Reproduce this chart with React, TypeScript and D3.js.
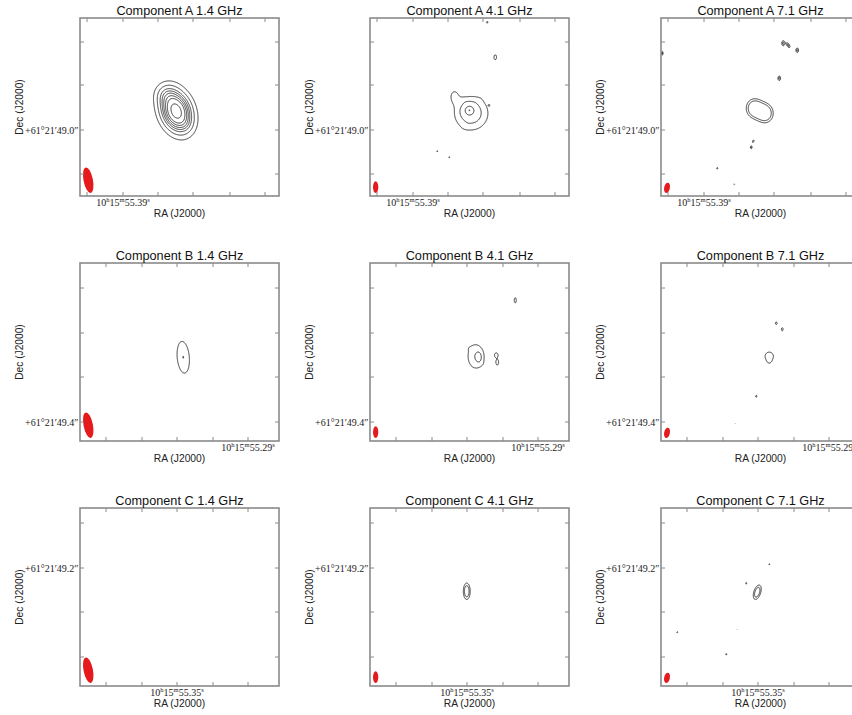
import React, { useMemo } from "react";
import * as d3 from "d3";

const WIDTH = 852;
const HEIGHT = 715;

// ---------- data ----------
const sourceNames = ["A", "B", "C"];
const frequencies = ["1.4 GHz", "4.1 GHz", "7.1 GHz"];

// map extent in map pixels (x east->west, y south->north)
const MAP_W = 199;
const MAP_H = 178;

// Gaussian components: [x, y, amplitude, sigmaX, sigmaY, tilt(deg)]
type Comp = [number, number, number, number, number, number];

const srcA14: Comp[] = [
  [96, 85, 1, 9, 13, -20],
  [86, 102, 0.14, 7, 7, 0],
  [104, 72, 0.05, 5, 5, 0],
];
const lvlA14 = [0.075, 0.17, 0.28, 0.37, 0.46, 0.56, 0.67, 0.87];

const srcA41: Comp[] = [
  [99, 86, 0.6, 4, 4, 0],
  [101, 83, 0.4, 10, 10, 0],
  [84, 100, 0.12, 4, 6, 0],
  [93, 96, 0.05, 3, 2, 0],
  [108, 96, 0.04, 3, 2, 0],
  [96, 70, 0.05, 3, 2, 0],
  [119, 91, 0.06, 1, 1, 0],
  [117, 174, 0.13, 1, 1, 0],
  [125, 139, 0.16, 1.3, 2.5, 0],
  [67, 45, 0.12, 0.9, 0.9, 0],
  [79, 39, 0.12, 0.9, 0.9, 0],
  [99, 86, 0.06, 0.8, 0.8, 0],
];
const lvlA41 = [0.1, 0.25, 0.68, 1.02];

const srcA71: Comp[] = [
  [93, 88, 1, 6, 7, 0],
  [104, 83, 1, 6, 7, 0],
  [122, 153, 0.7, 1.5, 2.5, 0],
  [127, 151, 0.7, 1.2, 2.6, -30],
  [136, 146, 0.7, 1.3, 2.2, 0],
  [118, 118, 0.7, 1.3, 2.2, 0],
  [92, 55, 0.6, 0.8, 1.5, 20],
  [90, 49, 0.65, 0.9, 1.5, 0],
  [56, 28, 0.55, 0.9, 0.9, 0],
  [73, 12, 0.5, 0.7, 0.7, 0],
  [1, 143, 0.7, 0.8, 1.8, 0],
];
const lvlA71 = [0.42, 0.62];

const srcB14: Comp[] = [[103, 84, 1, 4, 10.5, -5]];
const lvlB14 = [0.32, 0.995];

const srcB41: Comp[] = [
  [105, 85, 0.5, 5, 8, 0],
  [109, 84, 0.5, 2.5, 4.5, 0],
  [126, 86, 0.36, 1.5, 2, 0],
  [127, 79, 0.34, 1.2, 2.4, 0],
  [145, 141, 0.3, 1, 2.5, 0],
  [99, 93, 0.06, 2, 2, 0],
  [112, 78, 0.06, 2, 2, 0],
];
const lvlB41 = [0.18, 0.6];

const srcB71: Comp[] = [
  [108, 85, 0.6, 3.5, 3.5, 0],
  [108, 80, 0.3, 2, 2, 0],
  [115, 118, 0.42, 1, 1.5, 0],
  [121, 112, 0.45, 0.9, 1.8, 0],
  [95, 45, 0.4, 0.8, 1.3, 0],
  [74, 18, 0.32, 0.5, 0.5, 0],
];
const lvlB71 = [0.3];

const srcC14: Comp[] = [];
const lvlC14 = [0.3];

const srcC41: Comp[] = [[96.5, 95, 1, 2.3, 5.5, 0]];
const lvlC41 = [0.33, 0.6];

const srcC71: Comp[] = [
  [96, 94, 1, 2.3, 5, 18],
  [108, 122, 0.45, 0.7, 0.7, 0],
  [85, 103, 0.45, 0.7, 1, 0],
  [16, 54, 0.45, 0.7, 0.7, 0],
  [65, 32, 0.45, 0.8, 0.8, 0],
  [76, 57, 0.36, 0.5, 0.5, 0],
];
const lvlC71 = [0.33, 0.6];

const panelSources = [
  [srcA14, srcA41, srcA71],
  [srcB14, srcB41, srcB71],
  [srcC14, srcC41, srcC71],
];
const panelLevels = [
  [lvlA14, lvlA41, lvlA71],
  [lvlB14, lvlB41, lvlB71],
  [lvlC14, lvlC41, lvlC71],
];

// restoring beam per frequency (map pixels)
const beamMajor = [26, 11.7, 10.5];
const beamMinor = [9.4, 5.3, 5.7];
const beamPA = [-11, 0, 12];

// axis ticks per row (map pixels) and labels
const decTicks = [
  [22, 66, 111, 154],
  [19, 64, 108, 153],
  [29, 74, 118, 163],
];
const decLabelTick = [66, 19, 118];
const decLabels = ["+61°21′49.0″", "+61°21′49.4″", "+61°21′49.2″"];

const raTicks = [
  [7, 43, 78, 113, 150, 185],
  [26, 62, 97, 133, 168],
  [26, 62, 97, 133, 168],
];
const raLabelTick = [43, 168, 97];
const raLabels = ["10h15m55.39s", "10h15m55.29s", "10h15m55.35s"];

// ---------- layout ----------
const PW = 199;
const PH = 178;
const colLeft = [80, 370, 661];
const rowTop = [18, 263, 508];
const RES = 2;

const FRAME = "#8a8a8a";
const SANS = "'Liberation Sans', Arial, sans-serif";
const SERIF = "'Liberation Serif', 'Times New Roman', serif";

function buildGrid(comps: Comp[]) {
  const nx = Math.round(MAP_W * RES);
  const ny = Math.round(MAP_H * RES);
  const v = new Float64Array(nx * ny);
  for (const [cx, cy, amp, sx, sy, pa] of comps) {
    const gx = cx * RES;
    const gy = (MAP_H - cy) * RES;
    const sxr = sx * RES;
    const syr = sy * RES;
    const t = (pa * Math.PI) / 180;
    const c = Math.cos(t);
    const s = Math.sin(t);
    const R = 5 * Math.max(sxr, syr);
    const i0 = Math.max(0, Math.floor(gx - R));
    const i1 = Math.min(nx - 1, Math.ceil(gx + R));
    const j0 = Math.max(0, Math.floor(gy - R));
    const j1 = Math.min(ny - 1, Math.ceil(gy + R));
    for (let j = j0; j <= j1; j++) {
      for (let i = i0; i <= i1; i++) {
        const dx = i - gx;
        const dy = j - gy;
        const u = dx * c + dy * s;
        const w = -dx * s + dy * c;
        v[j * nx + i] += amp * Math.exp(-0.5 * ((u * u) / (sxr * sxr) + (w * w) / (syr * syr)));
      }
    }
  }
  return { nx, ny, v: Array.from(v) };
}

function RaLabel({ text, x, y }: { text: string; x: number; y: number }) {
  const m = /(\d+)h(\d+)m([\d.]+)s/.exec(text);
  if (!m) return null;
  return (
    <text x={x} y={y} textAnchor="middle" fontFamily={SERIF} fontSize={10} fill="#222">
      {m[1]}
      <tspan fontSize={6.5} dy={-3.5}>h</tspan>
      <tspan dy={3.5}>{m[2]}</tspan>
      <tspan fontSize={6.5} dy={-3.5}>m</tspan>
      <tspan dy={3.5}>{m[3]}</tspan>
      <tspan fontSize={6.5} dy={-3.5}>s</tspan>
    </text>
  );
}

function Panel({ r, c }: { r: number; c: number }) {
  const left = colLeft[c];
  const top = rowTop[r];
  const x = d3.scaleLinear().domain([0, MAP_W]).range([0, PW]);
  const y = d3.scaleLinear().domain([0, MAP_H]).range([PH, 0]);

  const paths = useMemo(() => {
    const comps = panelSources[r][c];
    if (!comps.length) return [] as string[];
    const { nx, ny, v } = buildGrid(comps);
    const contours = d3.contours().size([nx, ny]).thresholds(panelLevels[r][c])(v);
    const proj = d3.geoTransform({
      point(px: number, py: number) {
        (this as any).stream.point(x(px / RES), y(MAP_H - py / RES));
      },
    });
    const gp = d3.geoPath(proj as any);
    return contours.map((ct) => gp(ct as any) || "");
  }, [r, c]);

  // beam
  const a = beamMajor[c] / 2;
  const b = beamMinor[c] / 2;
  const th = (beamPA[c] * Math.PI) / 180;
  const hx = Math.sqrt((a * Math.sin(th)) ** 2 + (b * Math.cos(th)) ** 2);
  const hy = Math.sqrt((a * Math.cos(th)) ** 2 + (b * Math.sin(th)) ** 2);
  const bx = x(3 + hx);
  const by = y(3 + hy);
  const clipId = `clip-${r}-${c}`;
  const tickLen = 4;

  return (
    <g transform={`translate(${left},${top})`}>
      <defs>
        <clipPath id={clipId}>
          <rect x={0} y={0} width={PW} height={PH} />
        </clipPath>
      </defs>
      <rect x={0} y={0} width={PW} height={PH} fill="#fff" />
      <g clipPath={`url(#${clipId})`}>
        {paths.map((d, i) => (
          <path key={i} d={d} fill="none" stroke="#262626" strokeWidth={0.9} />
        ))}
        <ellipse
          cx={bx}
          cy={by}
          rx={x(b) - x(0)}
          ry={y(0) - y(a)}
          transform={`rotate(${beamPA[c]},${bx},${by})`}
          fill="#e41a1c"
        />
      </g>
      {/* ticks */}
      {decTicks[r].map((t) => (
        <g key={`d${t}`} stroke={FRAME} strokeWidth={1}>
          <line x1={0} x2={tickLen} y1={y(t)} y2={y(t)} />
          <line x1={PW - tickLen} x2={PW} y1={y(t)} y2={y(t)} />
        </g>
      ))}
      {raTicks[r].map((t) => (
        <g key={`r${t}`} stroke={FRAME} strokeWidth={1}>
          <line x1={x(t)} x2={x(t)} y1={PH} y2={PH - tickLen} />
          <line x1={x(t)} x2={x(t)} y1={0} y2={tickLen} />
        </g>
      ))}
      <rect x={0} y={0} width={PW} height={PH} fill="none" stroke={FRAME} strokeWidth={1.6} />
      {/* texts */}
      <text x={PW / 2} y={-3.5} textAnchor="middle" fontFamily={SANS} fontSize={12.7} fill="#111">
        {`Component ${sourceNames[r]} ${frequencies[c]}`}
      </text>
      <text x={PW / 2} y={PH + 21} textAnchor="middle" fontFamily={SANS} fontSize={10.3} fill="#222">
        RA (J2000)
      </text>
      <text
        transform={`translate(${-61},${PH / 2}) rotate(-90)`}
        textAnchor="middle"
        dominantBaseline="central"
        fontFamily={SANS}
        fontSize={10.2}
        fill="#222"
      >
        Dec (J2000)
      </text>
      <text
        x={-1.5}
        y={y(decLabelTick[r])}
        textAnchor="end"
        dominantBaseline="central"
        fontFamily={SERIF}
        fontSize={10}
        fill="#222"
      >
        {decLabels[r]}
      </text>
      <RaLabel text={raLabels[r]} x={x(raLabelTick[r])} y={PH + 9.5} />
    </g>
  );
}

export default function App() {
  return (
    <div style={{ position: "absolute", left: 0, top: 0 }}>
      <svg width={WIDTH} height={HEIGHT} style={{ display: "block", background: "#fff" }}>
        {sourceNames.map((_, r) =>
          frequencies.map((__, c) => <Panel key={`${r}-${c}`} r={r} c={c} />)
        )}
      </svg>
    </div>
  );
}
